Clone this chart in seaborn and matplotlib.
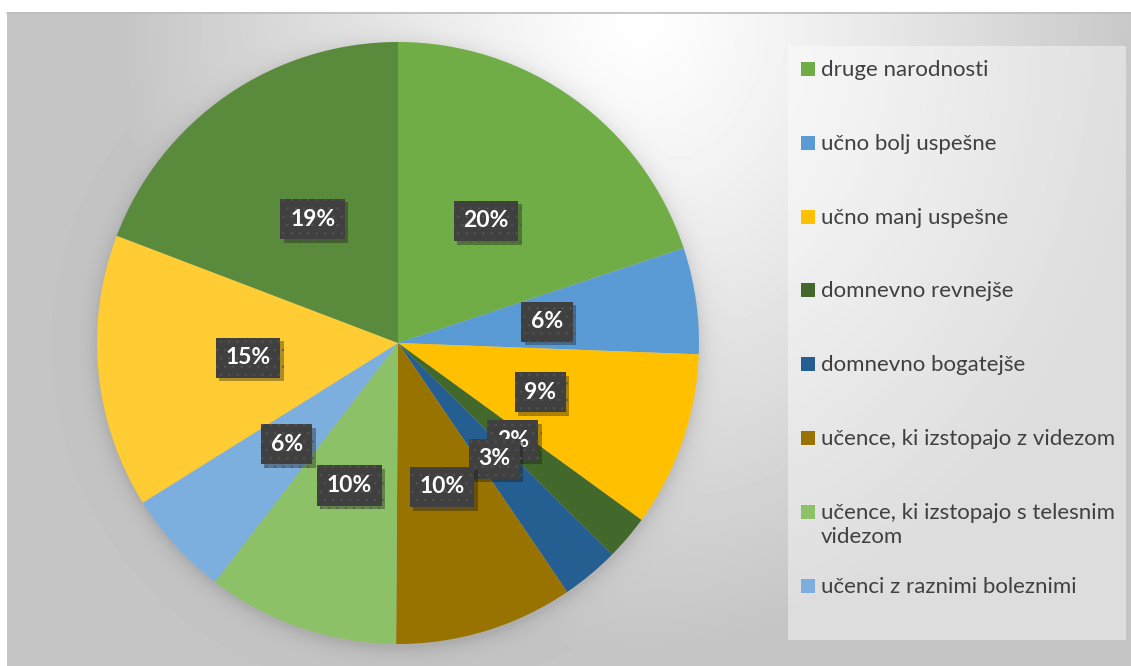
"""
Pie chart - skupine ucencev (delezi)
"""

import numpy as np
import matplotlib.pyplot as plt
import matplotlib.patheffects as pe
from matplotlib.patches import Rectangle
import seaborn as sns

# legend shows only the first 8 categories
categories = [
    "druge narodnosti",
    "učno bolj uspešne",
    "učno manj uspešne",
    "domnevno revnejše",
    "domnevno bogatejše",
    "učence, ki izstopajo z videzom",
    "učence, ki izstopajo s telesnim\nvidezom",
    "učenci z raznimi boleznimi",
]
# share of each slice (%), clockwise from the top
shares = [19.9, 5.7, 9.4, 2.4, 3.1, 9.6, 10.3, 5.7, 14.7, 19.2]
colors = ["#70AD47", "#5B9BD5", "#FFC000", "#43682B", "#255E91",
          "#997300", "#8CC168", "#7CAFDD", "#FFCD33", "#5A8A3C"]

sns.set_theme(style="white")
plt.rcParams["font.family"] = ["Lato", "DejaVu Sans"]
plt.rcParams["hatch.linewidth"] = 0.4

W, H = 1131, 666
fig = plt.figure(figsize=(W / 100, H / 100), dpi=100)

# background (radial gradient + soft shadow round the pie)
bg = fig.add_axes([0, 0, 1, 1])
bg.set_xlim(0, W)
bg.set_ylim(H, 0)
bg.axis("off")

cx, cy, R = 398, 343, 301
yy, xx = np.mgrid[12:H, 7:W] + 0.5
d = np.sqrt(((xx - 640) / 520) ** 2 + ((yy - 10) / 640) ** 2)
shade = 1 - 0.23 * np.clip(d, 0, 1) ** 1.2
r = np.hypot(xx - cx - 1, yy - cy - 3)
shade = shade - 0.09 * np.exp(-np.clip(r - R, 0, None) / 9)
bg.imshow(shade, cmap="gray", vmin=0, vmax=1, extent=(7, W, H, 12),
          aspect="auto", interpolation="bilinear")
bg.plot([7, W], [12.5, 12.5], color="#bdbdbd", lw=1.2)

# legend box
bg.add_patch(Rectangle((788, 46), 338, 594, facecolor="white",
                       alpha=0.42, edgecolor="none"))

# pie
ax = fig.add_axes([(cx - R) / W, (H - cy - R) / H, 2 * R / W, 2 * R / H])
wedges, _, autotexts = ax.pie(
    shares,
    colors=colors,
    startangle=90,
    counterclock=False,
    autopct=lambda p: f"{p:.0f}%",
    pctdistance=0.5,
    wedgeprops=dict(linewidth=0),
    textprops=dict(color="white", fontsize=16.5, fontweight="bold"),
)
ax.set_xlim(-1, 1)
ax.set_ylim(-1, 1)
ax.set_aspect("equal")
ax.axis("off")

for t in autotexts:
    t.set_bbox(dict(boxstyle="square,pad=0.42", facecolor="#404040",
                    edgecolor="#555555", linewidth=0, hatch=".."))
    t.get_bbox_patch().set_path_effects(
        [pe.SimplePatchShadow(offset=(2.5, -2.5), alpha=0.35), pe.Normal()])

# legend entries
for i, (lab, col) in enumerate(zip(categories, colors)):
    yc = 69 + 73.8 * i
    bg.add_patch(Rectangle((801, yc - 7), 14, 14, facecolor=col, edgecolor="none"))
    bg.text(821, yc - 9, lab, va="top", ha="left", fontsize=16,
            color="#404040", linespacing=1.25)

fig.savefig("out.png", dpi=100)
